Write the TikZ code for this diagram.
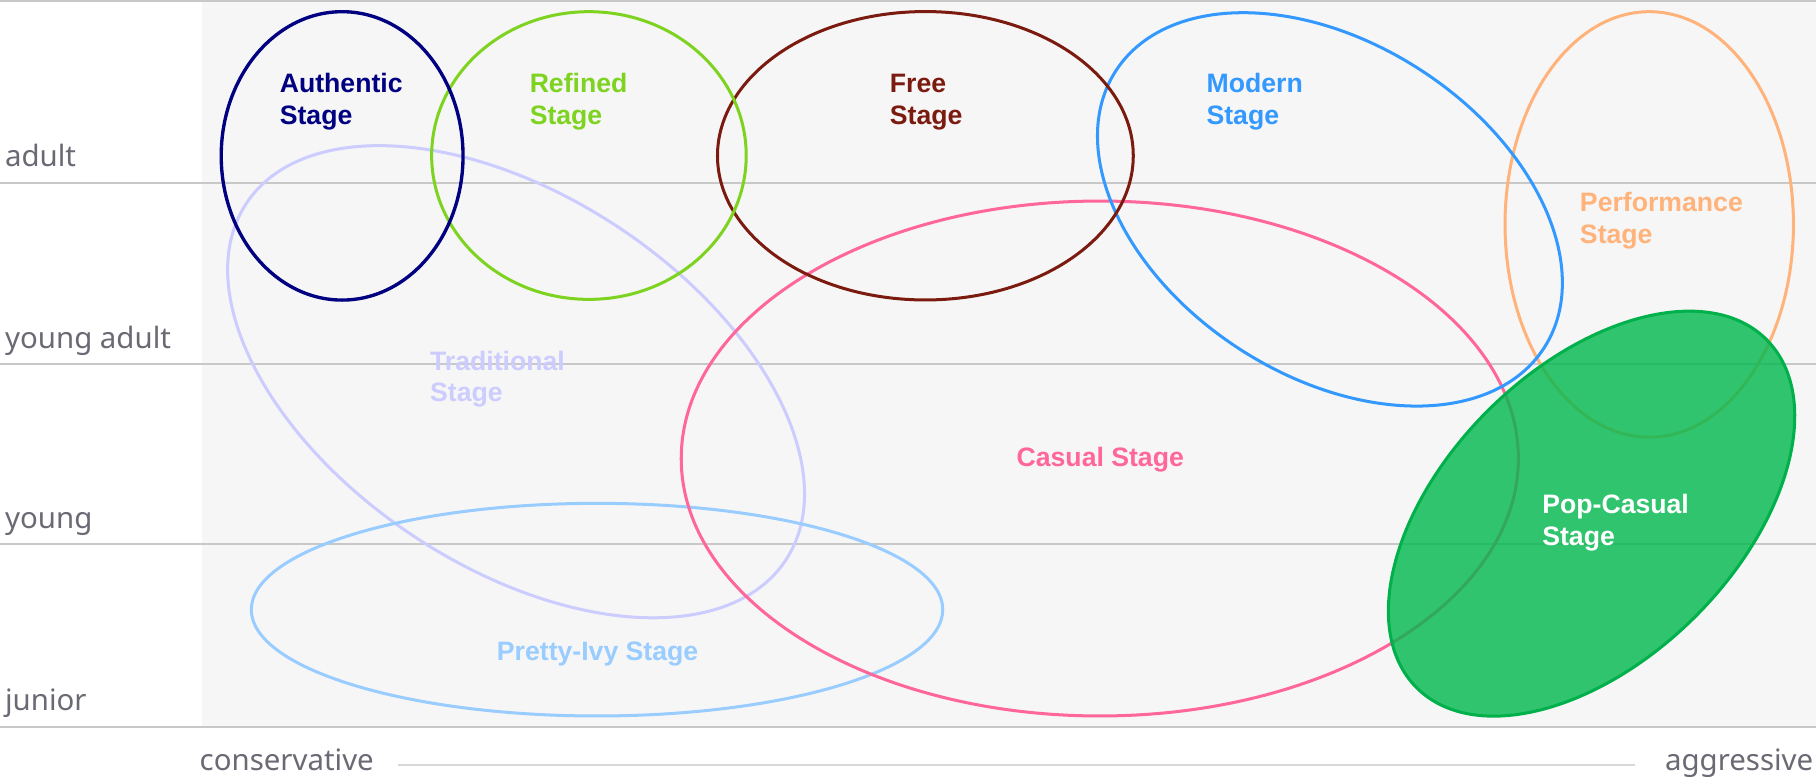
\documentclass[tikz,border=0pt]{standalone}
\usepackage{fontspec}
\setmainfont{Noto Sans}
\newfontfamily\stagefont{Liberation Sans}
\definecolor{authc}{HTML}{000080}
\definecolor{refc}{HTML}{7ED321}
\definecolor{freec}{HTML}{7B1B0F}
\definecolor{modc}{HTML}{3399FF}
\definecolor{perfc}{HTML}{FFB37A}
\definecolor{casc}{HTML}{FF6699}
\definecolor{tradc}{HTML}{CCCCFF}
\definecolor{ivyc}{HTML}{99CCFF}
\definecolor{popc}{HTML}{00B04A}
\definecolor{popfill}{HTML}{00B84D}
\definecolor{gridc}{HTML}{C8C8C8}
\definecolor{bgc}{HTML}{F6F6F6}
\definecolor{axisc}{HTML}{6A6974}
\definecolor{axlinec}{HTML}{D8D8D8}
\tikzset{
  gridline/.style={draw=gridc, line width=0.85pt},
  stageline/.style={line width=1.3pt},
  stagelbl/.style={font=\stagefont\bfseries\fontsize{11.5}{13.7}\selectfont, align=left, inner sep=0pt, anchor=base west},
  axislbl/.style={font=\fontsize{12.7}{15}\selectfont, text=axisc, inner sep=0pt, anchor=base west},
}
\begin{document}
\begin{tikzpicture}[x=0.5pt,y=-0.5pt]
\useasboundingbox (0,0) rectangle (1568,672);
% background
\fill[bgc] (174.5,1) rectangle (1568,627.5);
% grid lines
\draw[gridline] (0,1) -- (1568,1);
\draw[gridline] (0,157.7) -- (1568,157.7);
\draw[gridline] (0,314.6) -- (1568,314.6);
\draw[gridline] (0,470) -- (1568,470);
\draw[gridline] (0,627.5) -- (1568,627.5);
% ellipses
\draw[stageline, tradc, shift={(445.6,329.6)}, rotate=-33.5] (0,0) ellipse[x radius=279.2, y radius=160];
\draw[stageline, ivyc] (515.5,526.4) ellipse[x radius=298.5, y radius=91.8];
\draw[stageline, casc] (949.6,395.9) ellipse[x radius=361.4, y radius=222.3];
\draw[stageline, perfc] (1424,193.8) ellipse[x radius=124.5, y radius=183.7];
\draw[stageline, modc, shift={(1148.3,180.8)}, rotate=-32.9] (0,0) ellipse[x radius=220.2, y radius=143.6];
\draw[stageline, freec] (799,134.5) ellipse[x radius=179.5, y radius=124.5];
\draw[stageline, refc] (508.5,134.3) ellipse[x radius=135.8, y radius=124.2];
\draw[line width=1.45pt, authc] (295.4,134.6) ellipse[x radius=104.4, y radius=124.5];
\filldraw[stageline, draw=popc, fill=popfill, fill opacity=0.8, shift={(1374.2,443.5)}, rotate=44.8] (0,0) ellipse[x radius=213.1, y radius=126.2];
% stage labels (anchor = baseline of the last line)
\node[stagelbl, text=authc] (lauth) at (241.2,107.1) {Authentic\\Stage};
\node[stagelbl, text=refc] (lref) at (457,107.1) {Refined\\Stage};
\node[stagelbl, text=freec] (lfree) at (768,107.1) {Free\\Stage};
\node[stagelbl, text=modc] (lmod) at (1041.4,107.1) {Modern\\Stage};
\node[stagelbl, text=perfc] (lperf) at (1363.8,210.2) {Performance\\Stage};
\node[stagelbl, text=tradc] (ltrad) at (371,346.9) {Traditional\\Stage};
\node[stagelbl, text=casc, anchor=base] (lcas) at (950,403) {Casual Stage};
\node[stagelbl, text=white] (lpop) at (1331.3,470.7) {Pop-Casual\\Stage};
\node[stagelbl, text=ivyc, anchor=base] (livy) at (516,570) {Pretty-Ivy Stage};
% axis labels
\node[axislbl] (yadult) at (4,143.7) {adult};
\node[axislbl] (yyadult) at (4,300.6) {young adult};
\node[axislbl] (yyoung) at (4,456) {young};
\node[axislbl] (yjunior) at (4,613.5) {junior};
\node[axislbl] (xcons) at (172,665.5) {conservative};
\node[axislbl, anchor=base east] (xaggr) at (1566,665.5) {aggressive};
\coordinate (axL) at (344,660.3);
\coordinate (axR) at (1412,660.3);
\draw[draw=axlinec, line width=0.85pt] (axL) -- (axR);
\end{tikzpicture}
\end{document}
